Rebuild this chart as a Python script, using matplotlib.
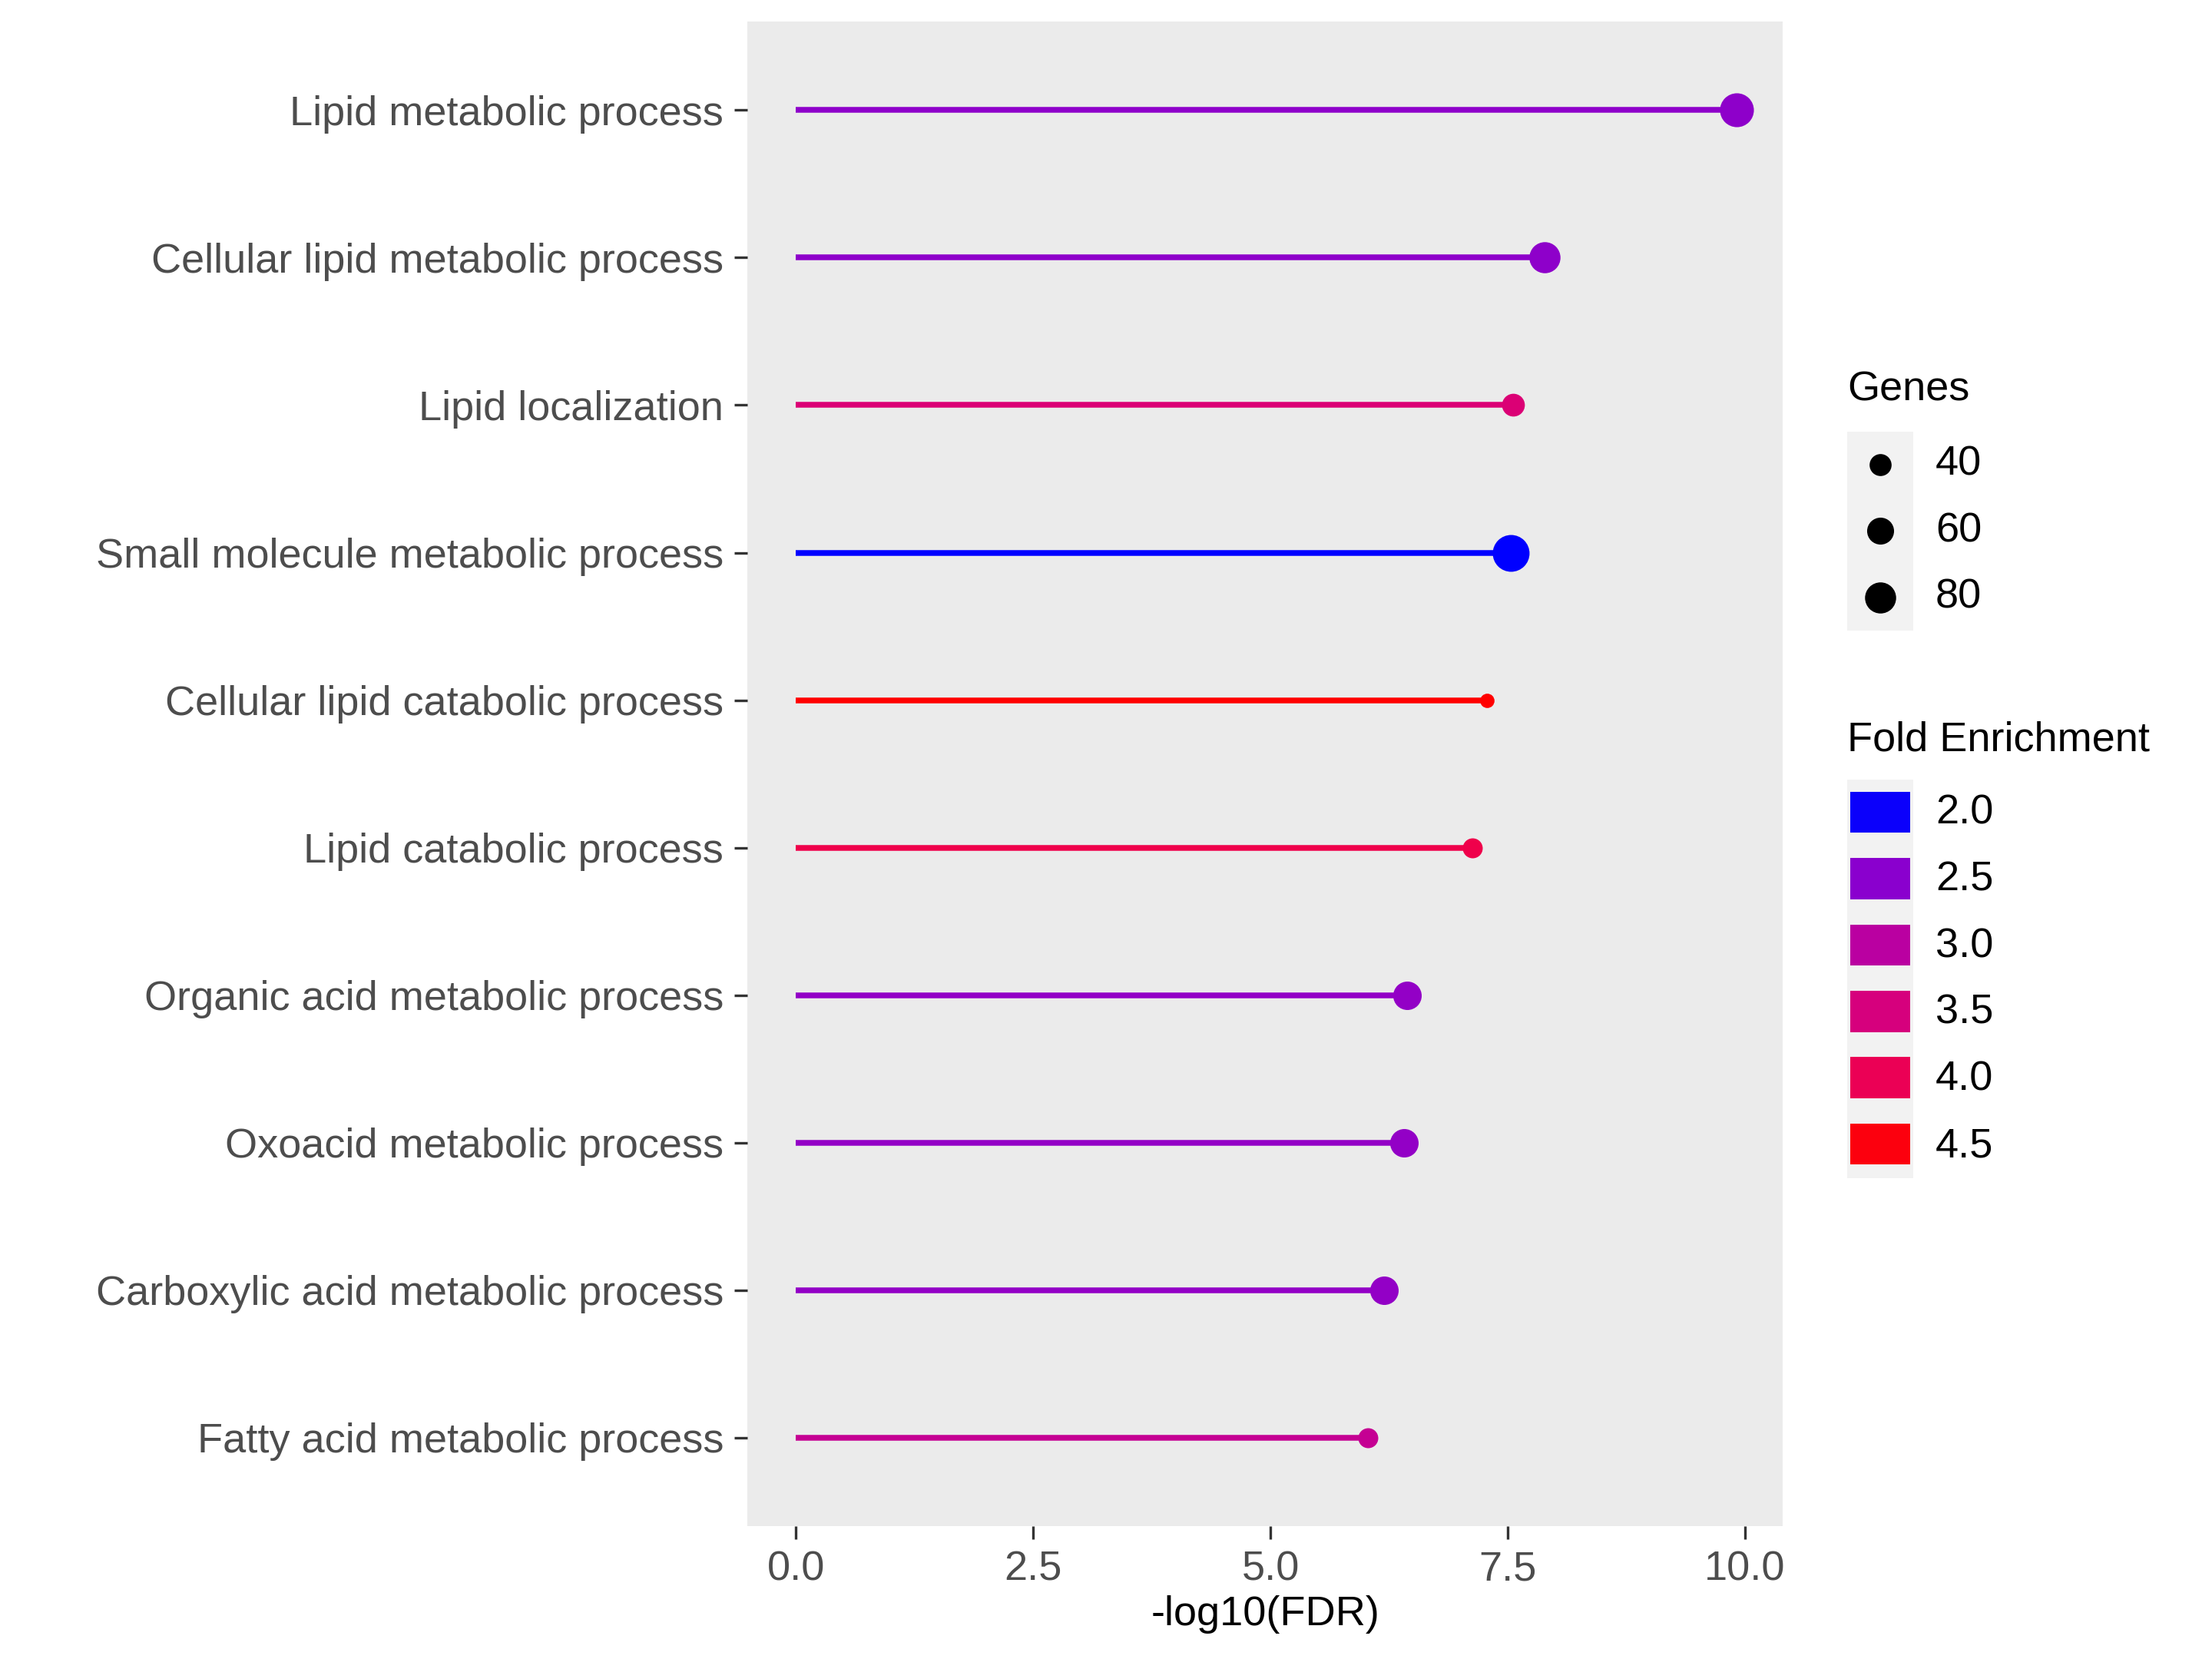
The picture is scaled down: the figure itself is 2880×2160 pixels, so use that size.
import numpy as np
import matplotlib
matplotlib.use("Agg")
import matplotlib.pyplot as plt
import matplotlib.colors as mcolors
from matplotlib.patches import Rectangle

plt.rcParams['font.family'] = ['Liberation Sans', 'DejaVu Sans']

terms = ["Lipid metabolic process", "Cellular lipid metabolic process", "Lipid localization",
         "Small molecule metabolic process", "Cellular lipid catabolic process",
         "Lipid catabolic process", "Organic acid metabolic process",
         "Oxoacid metabolic process", "Carboxylic acid metabolic process",
         "Fatty acid metabolic process"]
fdr = [9.91, 7.89, 7.56, 7.53, 7.28, 7.13, 6.44, 6.41, 6.20, 6.03]
fold = [2.55, 2.55, 3.6, 1.95, 4.6, 4.1, 2.6, 2.6, 2.6, 3.2]
genes = [95, 80, 43, 112, 17, 33, 67, 67, 67, 33]
leg_genes = [40, 60, 80]
leg_fold = [2.0, 2.5, 3.0, 3.5, 4.0, 4.5]

cmap = mcolors.LinearSegmentedColormap.from_list(
    "fe", ["#0000FF", "#8800D0", "#BB00A0", "#D8007A", "#EE0050", "#FF0000"])
norm = mcolors.Normalize(1.95, 4.6)

def msize(g):
    return 1.18 * g

fig = plt.figure(figsize=(9.6, 7.2), dpi=300)
ax = fig.add_axes([0.338, 0.08, 0.468, 0.907])
ax.set_facecolor("#EBEBEB")
for s in ax.spines.values():
    s.set_visible(False)

y = np.arange(len(terms))[::-1]
for yi, f, fe, g in zip(y, fdr, fold, genes):
    c = cmap(norm(fe))
    ax.plot([0, f], [yi, yi], color=c, lw=1.8, solid_capstyle="butt", zorder=2)
    ax.scatter([f], [yi], s=msize(g), color=c, zorder=3, linewidths=0)

ax.set_xlim(-0.51, 10.4)
ax.set_ylim(-0.6, len(terms) - 0.4)
ax.set_yticks(y)
ax.set_yticklabels(terms, fontsize=13, color="#4D4D4D")
ax.set_xticks([0, 2.5, 5, 7.5, 10])
ax.set_xticklabels(["0.0", "2.5", "5.0", "7.5", "10.0"], fontsize=13, color="#4D4D4D")
ax.tick_params(length=4, width=0.8, color="#333333")
ax.set_xlabel("-log10(FDR)", fontsize=13, labelpad=2)

# legends drawn by hand in figure coords
fig.text(0.835, 0.765, "Genes", fontsize=13, va="center")
lax = fig.add_axes([0.835, 0.62, 0.03, 0.12])
lax.set_xlim(0, 1); lax.set_ylim(0, 3)
lax.axis("off")
lax.add_patch(Rectangle((0, 0), 1, 3, color="#F2F2F2"))
for i, g in enumerate(leg_genes):
    lax.scatter([0.5], [2.5 - i], s=msize(g), color="black", linewidths=0)
for i, g in enumerate(leg_genes):
    fig.text(0.875, 0.72 - i * 0.04, str(g), fontsize=13, va="center")

fig.text(0.835, 0.554, "Fold Enrichment", fontsize=13, va="center")
cax = fig.add_axes([0.835, 0.29, 0.03, 0.24])
cax.set_xlim(0, 1); cax.set_ylim(0, 6)
cax.axis("off")
cax.add_patch(Rectangle((0, 0), 1, 6, color="#F2F2F2"))
for i, v in enumerate(leg_fold):
    c = cmap(norm(v))
    cax.add_patch(Rectangle((0.05, 5.2 - i), 0.9, 0.62, color=c, lw=0))
    cax.scatter([0.5], [5.5 - i], s=80, color=c, linewidths=0)
    fig.text(0.875, 0.51 - i * 0.0402, "%.1f" % v, fontsize=13, va="center")

fig.savefig("out.png", dpi=300)
